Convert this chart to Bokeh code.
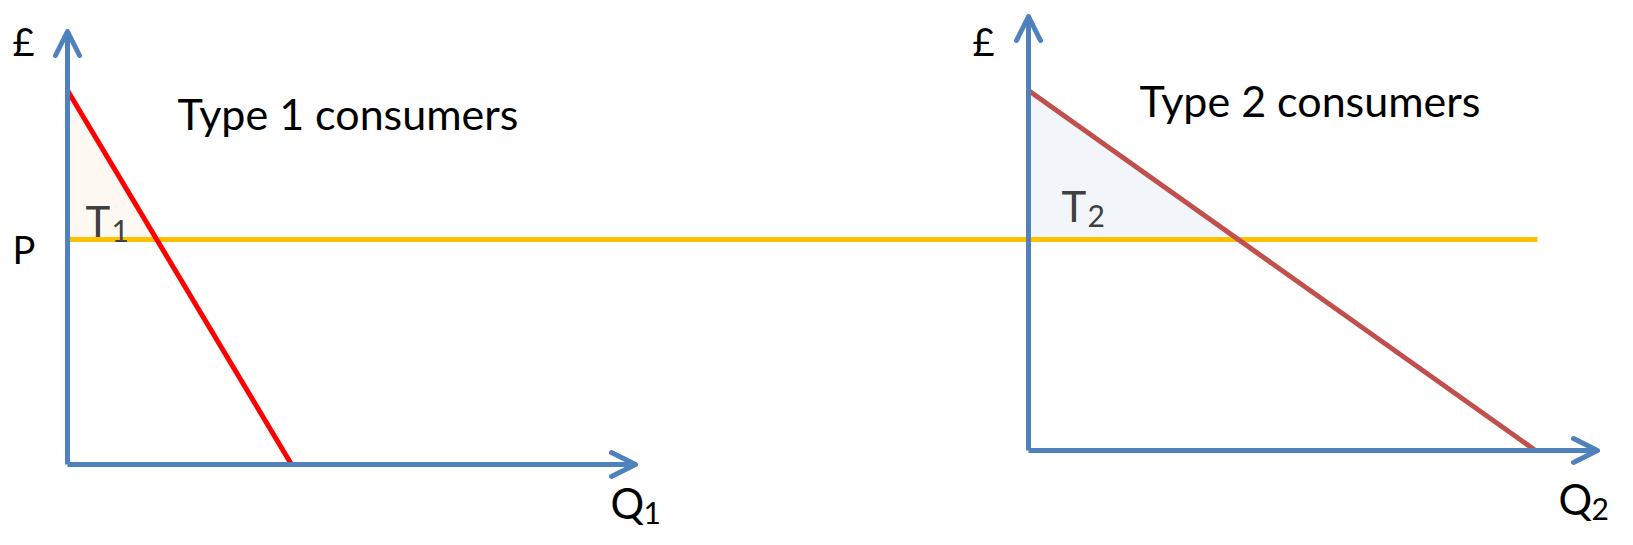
from bokeh.plotting import figure
from bokeh.models import Range1d, Arrow, OpenHead
from bokeh.core.properties import value
from bokeh.embed import file_html
from bokeh.resources import INLINE

# ---- diagram values (in picture pixel units) ----
panel_titles = ["Type 1 consumers", "Type 2 consumers"]
title_x = [177, 1139]
title_y = [113, 100]
origin_x = [67, 1028]          # vertical (£) axis position
origin_y = [464, 450]          # horizontal (Q) axis position
y_axis_top = [31, 16]          # tip of £ arrow
x_axis_end = [635, 1597]       # tip of Q arrow
demand_top_y = [90, 90]        # demand curve intercept on £ axis
demand_end_x = [291, 1535]     # demand curve intercept on Q axis
demand_colors = ["#FF0000", "#C0504D"]
surplus_fill = ["#FDF8F2", "#F2F5FA"]
surplus_labels = ["T", "T"]
surplus_subs = ["1", "2"]
surplus_label_x = [85, 1061]
surplus_label_y = [220, 205]
q_labels_x = [610, 1558]
q_labels_y = [502, 498]
q_subs = ["1", "2"]
pound_x = [12, 972]
pound_y = [40, 40]
price_level = 239
price_line_x = [67, 1537]

BLUE = "#4F81BD"
GOLD = "#FFC000"
FONT = value("Lato")

p = figure(width=1617, height=529, x_range=Range1d(0, 1617), y_range=Range1d(529, 0),
           output_backend="svg", toolbar_location=None, min_border=0,
           x_axis_type=None, y_axis_type=None)
p.grid.visible = False
p.outline_line_color = None
p.background_fill_color = "white"

for i in range(2):
    ox, oy = origin_x[i], origin_y[i]
    ty, ex = demand_top_y[i], demand_end_x[i]
    # intersection of demand with price line
    xi = ox + (ex - ox) * (price_level - ty) / (oy - ty)
    # consumer surplus triangle
    p.patch([ox + 1, ox + 1, xi], [ty, price_level, price_level],
            fill_color=surplus_fill[i], line_color=None)

for i in range(2):
    ox, oy = origin_x[i], origin_y[i]
    p.add_layout(Arrow(x_start=ox, y_start=oy, x_end=ox, y_end=y_axis_top[i],
                       line_color=BLUE, line_width=5,
                       end=OpenHead(size=24, line_color=BLUE, line_width=5,
                                    line_cap="round", line_join="round")))
    p.add_layout(Arrow(x_start=ox, y_start=oy, x_end=x_axis_end[i], y_end=oy,
                       line_color=BLUE, line_width=5,
                       end=OpenHead(size=24, line_color=BLUE, line_width=5,
                                    line_cap="round", line_join="round")))

# price line
p.line(price_line_x, [price_level, price_level], line_color=GOLD, line_width=5)

for i in range(2):
    p.line([origin_x[i], demand_end_x[i]], [demand_top_y[i], origin_y[i]],
           line_color=demand_colors[i], line_width=5)

# titles
p.text(title_x, title_y, text=panel_titles, text_font=FONT, text_font_size="43px",
       text_color="black", text_baseline="alphabetic", text_align="left")
# surplus labels
p.text(surplus_label_x, surplus_label_y, text=surplus_labels, text_font=FONT,
       text_font_size="42px", text_color="#404040", text_baseline="alphabetic")
p.text([x + 26 for x in surplus_label_x], [y + 10 for y in surplus_label_y], text=surplus_subs,
       text_font=FONT, text_font_size="30px", text_color="#404040", text_baseline="alphabetic")
# Q labels
p.text(q_labels_x, q_labels_y, text=["Q", "Q"], text_font=FONT, text_font_size="42px",
       text_color="black", text_baseline="alphabetic")
p.text([x + 33 for x in q_labels_x], [y + 10 for y in q_labels_y], text=q_subs,
       text_font=FONT, text_font_size="30px", text_color="black", text_baseline="alphabetic")
# pound & P
p.text(pound_x, pound_y, text=["£", "£"], text_font=FONT, text_font_size="38px",
       text_color="black", text_baseline="alphabetic")
p.text([12], [price_level + 9], text=["P"], text_font=FONT, text_font_size="38px",
       text_color="black", text_baseline="alphabetic")

open("out.html", "w").write(file_html(p, INLINE))
